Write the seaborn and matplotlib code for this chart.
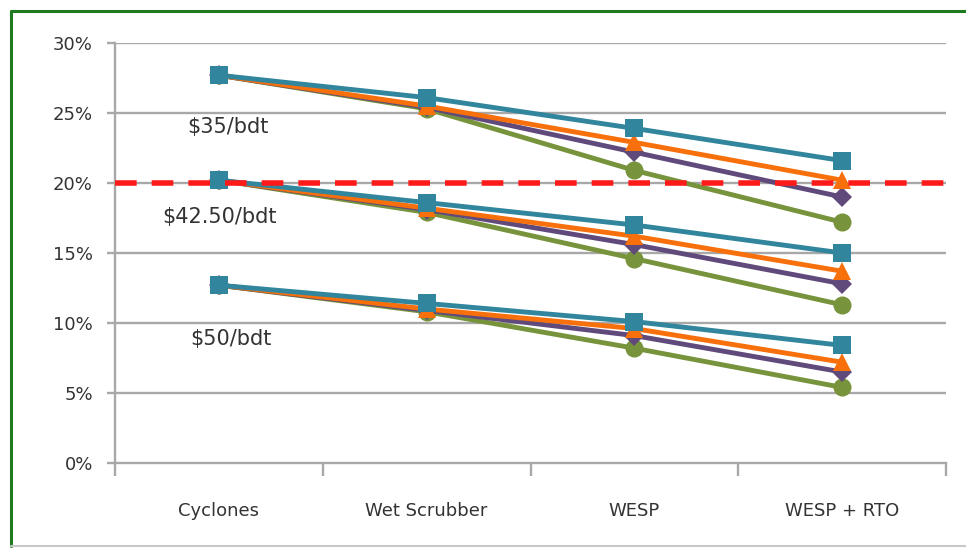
import matplotlib
matplotlib.use("Agg")
import matplotlib.pyplot as plt
from matplotlib.lines import Line2D
import numpy as np
import pandas as pd
import seaborn as sns

# Control technology stages along the x axis
stages = ["Cyclones", "Wet Scrubber", "WESP", "WESP + RTO"]

# Feedstock price groups and their labels
prices = ["$35/bdt", "$42.50/bdt", "$50/bdt"]

# Return (%) per series, one list per price group (values per stage)
series_1 = {  # teal squares
    "$35/bdt": [27.7, 26.1, 23.9, 21.6],
    "$42.50/bdt": [20.2, 18.6, 17.0, 15.0],
    "$50/bdt": [12.7, 11.4, 10.1, 8.4],
}
series_2 = {  # orange triangles
    "$35/bdt": [27.7, 25.5, 22.9, 20.2],
    "$42.50/bdt": [20.2, 18.2, 16.2, 13.7],
    "$50/bdt": [12.7, 11.0, 9.6, 7.2],
}
series_3 = {  # purple diamonds
    "$35/bdt": [27.7, 25.4, 22.2, 19.0],
    "$42.50/bdt": [20.2, 18.1, 15.6, 12.8],
    "$50/bdt": [12.7, 10.9, 9.1, 6.5],
}
series_4 = {  # green circles
    "$35/bdt": [27.7, 25.3, 20.9, 17.2],
    "$42.50/bdt": [20.2, 17.9, 14.6, 11.3],
    "$50/bdt": [12.7, 10.8, 8.2, 5.4],
}

target_return = 20.0
y_ticks = [0, 5, 10, 15, 20, 25, 30]
y_tick_labels = ["0%", "5%", "10%", "15%", "20%", "25%", "30%"]

series_names = ["Series 4", "Series 3", "Series 2", "Series 1"]
series_data = {
    "Series 1": series_1,
    "Series 2": series_2,
    "Series 3": series_3,
    "Series 4": series_4,
}

rows = []
for name in series_names:
    for price in prices:
        for i, stage in enumerate(stages):
            rows.append({"series": name, "price": price, "pos": i,
                         "value": series_data[name][price][i]})
df = pd.DataFrame(rows)

sns.set_theme(style="white")
plt.rcParams["font.family"] = ["DejaVu Sans"]

fig = plt.figure(figsize=(9.66, 5.48), dpi=100)
W, H = 966, 548
ax = fig.add_axes([115 / W, 1 - 463 / H, (946 - 115) / W, (463 - 43) / H])

palette = {"Series 1": "#31859C", "Series 2": "#F7700C",
           "Series 3": "#604A7B", "Series 4": "#77933C"}
markers = {"Series 1": "s", "Series 2": "^", "Series 3": "D", "Series 4": "o"}

# gridlines
for t in y_ticks[1:]:
    ax.axhline(t, color="#A8A8A8", lw=1.7, zorder=0.5)

sns.lineplot(data=df, x="pos", y="value", hue="series", style="series",
             units="price", estimator=None, hue_order=series_names,
             style_order=series_names, palette=palette, markers=markers,
             dashes=False, linewidth=3.5, markersize=13, markeredgewidth=0,
             legend=False, ax=ax, zorder=3)

# shrink the diamonds a bit to keep them proportional
for line in ax.get_lines():
    if line.get_marker() == "D":
        line.set_markersize(10.5)

# target return line
ax.axhline(target_return, color="#FF1A1A", lw=4, dashes=(3.9, 2.7), zorder=4)

ax.set_xlim(-0.5, 3.5)
ax.set_ylim(0, 30)
ax.set_xlabel("")
ax.set_ylabel("")
ax.set_yticks(y_ticks)
ax.set_yticklabels(y_tick_labels)
ax.set_xticks(range(len(stages)))
ax.set_xticklabels(stages)
ax.set_xticks(np.arange(-0.5, 4.0, 1.0), minor=True)

for side in ["top", "right"]:
    ax.spines[side].set_visible(False)
for side in ["left", "bottom"]:
    ax.spines[side].set_color("#A8A8A8")
    ax.spines[side].set_linewidth(1.7)

ax.tick_params(axis="y", which="major", length=6, width=1.7, color="#A8A8A8",
               labelsize=13, labelcolor="#333333", pad=10, left=True)
ax.tick_params(axis="x", which="major", length=0, labelsize=13,
               labelcolor="#333333", pad=28)
ax.tick_params(axis="x", which="minor", length=9, width=1.7, color="#A8A8A8",
               bottom=True)

# price group labels
label_pos = {"$35/bdt": (228, 127), "$42.50/bdt": (220, 217), "$50/bdt": (231, 339)}
for price in prices:
    px, py = label_pos[price]
    fig.text(px / W, 1 - py / H, price, ha="center", va="center",
             fontsize=15, color="#333333")

# green window frame
frame_kw = dict(transform=fig.transFigure, clip_on=False)
fig.add_artist(Line2D([11 / W, 1.0], [1 - 11 / H, 1 - 11 / H],
                      color="#1E7A1E", lw=2.2, **frame_kw))
fig.add_artist(Line2D([11 / W, 11 / W], [1 - 11 / H, 1 - 546 / H],
                      color="#1E7A1E", lw=2.2, **frame_kw))
fig.add_artist(Line2D([11 / W, 1.0], [1 - 546 / H, 1 - 546 / H],
                      color="#C8C8C8", lw=1.5, **frame_kw))

fig.savefig("out.png", dpi=100)
